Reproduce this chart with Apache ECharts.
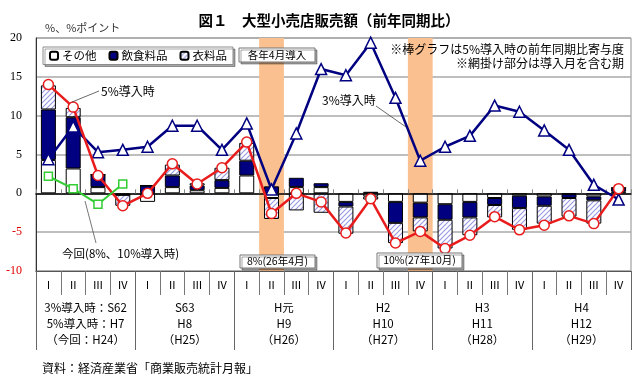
<!DOCTYPE html>
<html><head><meta charset="utf-8">
<script src="https://cdn.jsdelivr.net/npm/echarts@6/dist/echarts.min.js"></script>
<style>html,body{margin:0;padding:0;background:#fff}#c{width:640px;height:384px}</style>
</head><body><div id="c"></div>
<script>
// ---- data ----
const quarterLabels = ['Ⅰ','Ⅱ','Ⅲ','Ⅳ'];
const yearLabels = ['3%導入時：S62\n5%導入時：H7\n（今回：H24）','S63\nH8\n（H25）','H元\nH9\n（H26）','H2\nH10\n（H27）','H3\nH11\n（H28）','H4\nH12\n（H29）'];
const yTicks = {min: -10, max: 20, interval: 5};
// contributions at 5% introduction (bars)
const otherVals = [4.3, 3.2, 0.8, -0.2, -1.1, 0.8, 0.4, 0.7, 2.3, -0.6, 0.8, 0.8, -1.1, -0.4, -1.1, -1.2, -1.4, -1.1, -0.6, -0.3, -0.4, -0.1, -0.4, 0.2];
const foodVals  = [6.5, 6.6, 1.6, 0.0, 1.0, 1.5, 0.6, 1.0, 1.9, 0.9, 1.2, 0.5, -0.6, 0.2, -2.7, -1.9, -2.0, -2.0, -0.9, -1.6, -1.2, -0.5, -0.5, 0.5];
const clothVals = [3.1, 1.2, 0.0, -1.4, 0.0, 1.4, 0.3, 1.6, 2.3, -2.7, -2.2, -2.5, -3.5, -0.4, -2.6, -1.8, -3.7, -2.3, -1.6, -2.8, -2.3, -2.4, -3.0, 0.0];
// lines
const pct5Vals = [14.0, 11.1, 2.3, -1.6, 0.0, 3.8, 1.2, 3.3, 6.6, -2.6, 0.0, -1.1, -5.1, -0.7, -6.4, -4.9, -7.1, -5.4, -3.0, -4.7, -4.1, -2.9, -3.9, 0.6];
const pct3Vals = [4.4, 8.6, 5.3, 5.6, 6.0, 8.7, 8.7, 5.6, 9.0, 0.5, 7.7, 16.0, 15.2, 19.4, 12.3, 4.2, 6.0, 7.4, 11.3, 10.5, 8.1, 5.6, 1.1, -0.8];
const currentVals = [2.2, 0.6, -1.4, 1.2];
// shaded quarters (introduction month)
const bandIndices = [9, 15];

// ---- build ----
const categories = [];
yearLabels.forEach((y, yi) => quarterLabels.forEach((q, qi) => categories.push(yi + '-' + qi)));
const currentFull = categories.map((c, i) => i < currentVals.length ? currentVals[i] : null);
const bandData = categories.map((c, i) => bandIndices.includes(i) ? 1 : null);

function makeHatch() {
  const c = document.createElement('canvas');
  c.width = 5; c.height = 5;
  const g = c.getContext('2d');
  g.fillStyle = '#ffffff'; g.fillRect(0, 0, 5, 5);
  g.strokeStyle = '#9a9ae4'; g.lineWidth = 1.2;
  g.beginPath();
  g.moveTo(-1, 6); g.lineTo(6, -1);
  g.moveTo(-3.5, 3.5); g.lineTo(3.5, -3.5);
  g.moveTo(1.5, 8.5); g.lineTo(8.5, 1.5);
  g.stroke();
  return c;
}
const hatch = {image: makeHatch(), repeat: 'repeat'};

const JP = '"Noto Sans CJK JP", sans-serif';
const NAVY = '#000080', RED = '#e81c1c', GREEN = '#33cc33', BAND = '#FAC08F';

const chart = echarts.init(document.getElementById('c'), null, {renderer: 'canvas'});
chart.setOption({
  animation: false,
  backgroundColor: '#fff',
  textStyle: {fontFamily: JP},
  grid: {left: 36, right: 9, top: 38, bottom: 113, containLabel: false, outerBoundsMode: 'none',
         show: true, borderColor: '#8c8c8c', borderWidth: 1},
  legend: {
    data: ['その他', '飲食料品', '衣料品'],
    left: 43, top: 47, orient: 'horizontal',
    padding: [3, 6], itemGap: 12, itemWidth: 8, itemHeight: 8,
    backgroundColor: '#fff', borderColor: '#8c8c8c', borderWidth: 1,
    shadowColor: 'rgba(0,0,0,0.35)', shadowOffsetX: 2, shadowOffsetY: 2, shadowBlur: 0,
    textStyle: {fontSize: 11.5, fontFamily: JP, color: '#000', padding: [1, 0, 0, -1]},
    selectedMode: false
  },
  xAxis: [
    { // quarters row
      type: 'category', data: categories, position: 'bottom',
      axisLine: {onZero: false, lineStyle: {color: '#555', width: 1}},
      axisTick: {show: true, interval: 0, length: 24, lineStyle: {color: '#777'}},
      axisLabel: {interval: 0, margin: 7, fontSize: 11, lineHeight: 14, color: '#000', fontFamily: JP,
                  formatter: (v, i) => quarterLabels[i % 4]},
      splitLine: {show: false}
    },
    { // years row
      type: 'category', data: yearLabels, position: 'bottom',
      axisLine: {onZero: false, lineStyle: {color: '#555', width: 1}},
      axisTick: {show: true, interval: 0, length: 79, lineStyle: {color: '#666'}},
      axisLabel: {interval: 0, margin: 29, fontSize: 11.5, lineHeight: 16, color: '#000', fontFamily: JP},
      splitLine: {show: false}
    },
    { // zero line
      type: 'category', data: categories, position: 'bottom', z: 3,
      axisLine: {onZero: true, onZeroAxisIndex: 0, lineStyle: {color: '#000', width: 1.5}},
      axisTick: {show: true, inside: true, interval: 0, length: 4, lineStyle: {color: '#888'}},
      axisLabel: {show: false},
      splitLine: {show: false}
    }
  ],
  yAxis: [
    {
      type: 'value', min: yTicks.min, max: yTicks.max, interval: yTicks.interval,
      axisLine: {show: true, lineStyle: {color: '#333', width: 1}},
      axisTick: {show: false},
      splitLine: {show: true, lineStyle: {color: '#a8a8a8', width: 1.5}},
      axisLabel: {margin: 14, fontSize: 12, color: '#000', fontFamily: '"Liberation Serif", serif',
        formatter: v => v < 0 ? '{r|' + v + '}' : String(v),
        rich: {r: {color: '#e00000', fontSize: 12, fontFamily: '"Liberation Serif", serif'}}}
    },
    {type: 'value', min: 0, max: 1, show: false}
  ],
  series: [
    {name: 'band', type: 'bar', xAxisIndex: 2, yAxisIndex: 1, data: bandData, barWidth: '100%',
     itemStyle: {color: BAND}, z: 1, silent: true},
    {name: 'その他', type: 'bar', stack: 'c', data: otherVals, barWidth: 15, z: 2,
     itemStyle: {color: '#ffffff', borderColor: '#000', borderWidth: 1}},
    {name: '飲食料品', type: 'bar', stack: 'c', data: foodVals, barWidth: 15, z: 2,
     itemStyle: {color: NAVY, borderColor: '#000', borderWidth: 1}},
    {name: '衣料品', type: 'bar', stack: 'c', data: clothVals, barWidth: 15, z: 2,
     itemStyle: {color: hatch, borderColor: '#000', borderWidth: 1}},
    {name: '3%導入時', type: 'line', data: pct3Vals, z: 5,
     symbol: 'triangle', symbolSize: 11, showAllSymbol: true,
     lineStyle: {color: NAVY, width: 2.5},
     itemStyle: {color: '#fff', borderColor: NAVY, borderWidth: 1.5}},
    {name: '5%導入時', type: 'line', data: pct5Vals, z: 6,
     symbol: 'circle', symbolSize: 10, showAllSymbol: true,
     lineStyle: {color: RED, width: 2.5},
     itemStyle: {color: '#fff', borderColor: RED, borderWidth: 1.5}},
    {name: '今回', type: 'line', data: currentFull, z: 6,
     symbol: 'rect', symbolSize: 8, showAllSymbol: true,
     lineStyle: {color: GREEN, width: 2},
     itemStyle: {color: '#fff', borderColor: GREEN, borderWidth: 1.5}}
  ],
  graphic: [
    {type: 'text', z: 100, style: {text: '図１　大型小売店販売額（前年同期比）', x: 329, y: 20,
      textAlign: 'center', textVerticalAlign: 'middle', align: 'center', verticalAlign: 'middle',
      font: 'bold 14.5px ' + JP, fill: '#000'}},
    {type: 'text', z: 100, style: {text: '%、%ポイント', x: 45, y: 28,
      textAlign: 'left', textVerticalAlign: 'middle', align: 'left', verticalAlign: 'middle',
      font: '11px ' + JP, fill: '#333'}},
    {type: 'text', z: 100, style: {text: '※棒グラフは5%導入時の前年同期比寄与度', x: 624, y: 49,
      textAlign: 'right', textVerticalAlign: 'middle', align: 'right', verticalAlign: 'middle',
      font: '12px ' + JP, fill: '#000'}},
    {type: 'text', z: 100, style: {text: '※網掛け部分は導入月を含む期', x: 624, y: 63,
      textAlign: 'right', textVerticalAlign: 'middle', align: 'right', verticalAlign: 'middle',
      font: '12px ' + JP, fill: '#000'}},
    // box: 各年4月導入
    {type: 'rect', z: 100, shape: {x: 239, y: 48, width: 76, height: 14},
      style: {fill: '#fff', stroke: '#777', lineWidth: 1, shadowColor: 'rgba(0,0,0,0.35)', shadowOffsetX: 2, shadowOffsetY: 2}},
    {type: 'text', z: 101, style: {text: '各年4月導入', x: 277, y: 55,
      textAlign: 'center', textVerticalAlign: 'middle', align: 'center', verticalAlign: 'middle',
      font: '10.5px ' + JP, fill: '#000'}},
    // 5% label
    {type: 'line', z: 100, shape: {x1: 72, y1: 102, x2: 99, y2: 91}, style: {stroke: '#444', lineWidth: 0.8}},
    {type: 'text', z: 100, style: {text: '5%導入時', x: 101, y: 91,
      textAlign: 'left', textVerticalAlign: 'middle', align: 'left', verticalAlign: 'middle',
      font: '12px ' + JP, fill: '#000'}},
    // 3% label
    {type: 'line', z: 100, shape: {x1: 376, y1: 106, x2: 406, y2: 127}, style: {stroke: '#444', lineWidth: 0.8}},
    {type: 'text', z: 100, style: {text: '3%導入時', x: 322, y: 100,
      textAlign: 'left', textVerticalAlign: 'middle', align: 'left', verticalAlign: 'middle',
      font: '12px ' + JP, fill: '#000'}},
    // current label
    {type: 'line', z: 100, shape: {x1: 85, y1: 201, x2: 96, y2: 243}, style: {stroke: '#555', lineWidth: 0.8}},
    {type: 'text', z: 100, style: {text: '今回(8%、10%導入時)', x: 62, y: 254,
      textAlign: 'left', textVerticalAlign: 'middle', align: 'left', verticalAlign: 'middle',
      font: '11.5px ' + JP, fill: '#000'}},
    // 8% box
    {type: 'rect', z: 100, shape: {x: 240, y: 255, width: 75, height: 13},
      style: {fill: '#fff', stroke: '#777', lineWidth: 1, shadowColor: 'rgba(0,0,0,0.35)', shadowOffsetX: 2, shadowOffsetY: 2}},
    {type: 'text', z: 101, style: {text: '8%(26年4月)', x: 277.5, y: 261.5,
      textAlign: 'center', textVerticalAlign: 'middle', align: 'center', verticalAlign: 'middle',
      font: '10.5px ' + JP, fill: '#000'}},
    // 10% box
    {type: 'rect', z: 100, shape: {x: 377, y: 253, width: 85, height: 15},
      style: {fill: '#fff', stroke: '#777', lineWidth: 1, shadowColor: 'rgba(0,0,0,0.35)', shadowOffsetX: 2, shadowOffsetY: 2}},
    {type: 'text', z: 101, style: {text: '10%(27年10月)', x: 419.5, y: 260.5,
      textAlign: 'center', textVerticalAlign: 'middle', align: 'center', verticalAlign: 'middle',
      font: '10.5px ' + JP, fill: '#000'}},
    // source
    {type: 'text', z: 100, style: {text: '資料：経済産業省「商業販売統計月報」', x: 42, y: 368,
      textAlign: 'left', textVerticalAlign: 'middle', align: 'left', verticalAlign: 'middle',
      font: '12px ' + JP, fill: '#000'}}
  ]
});
</script></body></html>
